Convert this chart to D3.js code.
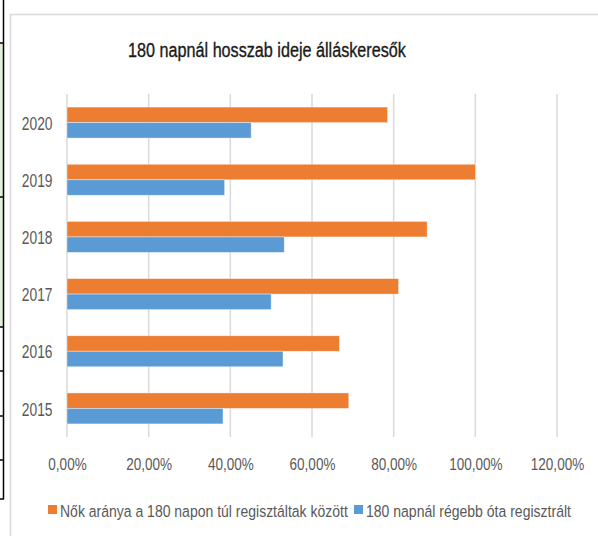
<!DOCTYPE html>
<html>
<head>
<meta charset="utf-8">
<script src="https://cdn.jsdelivr.net/npm/d3@7"></script>
<style>
  body { margin: 0; background: #fff; }
  svg { display: block; }
  text { font-family: "Liberation Sans", Arial, sans-serif; }
</style>
</head>
<body>
<div id="chart"></div>
<script>
const years = ["2020", "2019", "2018", "2017", "2016", "2015"];
const seriesNames = ["Nők aránya a 180 napon túl regisztáltak között", "180 napnál régebb óta regisztrált"];
const womenShare = [0.785, 1.0, 0.882, 0.812, 0.667, 0.69];
const longTerm = [0.451, 0.386, 0.532, 0.50, 0.529, 0.382];
const xTicks = [0, 0.2, 0.4, 0.6, 0.8, 1.0, 1.2];
const colors = ["#ED7D31", "#5B9BD5"];

const width = 598, height = 536;
const margin = { left: 67, right: 41, top: 94, bottom: 99 };

// Calibri is narrower than anything installed, so squeeze text horizontally
// around its anchor point (k = factor, or a target width in px if w given)
function squeeze(sel, k, w) {
  sel.each(function () {
    let t = d3.select(this);
    let f = w ? w / this.getComputedTextLength() : k;
    let ax = +t.attr("x") || 0, ay = +t.attr("y") || 0;
    t.attr("transform", `translate(${ax},${ay}) scale(${f},1) translate(${-ax},${-ay})`);
  });
}

let svg = d3.select("#chart")
  .append("svg")
  .attr("width", width)
  .attr("height", height);

// worksheet cell borders peeking out on the left
svg.append("rect").attr("x", 0).attr("y", 43).attr("width", 3).attr("height", 284).attr("fill", "#e2efda");
svg.append("line").attr("x1", 3.5).attr("x2", 3.5).attr("y1", 0).attr("y2", 499).attr("stroke", "#000").attr("stroke-width", 1.5);
[43, 197, 327, 371, 416, 460, 499].forEach((y) => {
  svg.append("line").attr("x1", 0).attr("x2", 4).attr("y1", y).attr("y2", y).attr("stroke", "#000").attr("stroke-width", 1.5);
});

// chart area frame
svg.append("rect")
  .attr("x", 10.5).attr("y", 14.5)
  .attr("width", 620).attr("height", 540)
  .attr("fill", "#fff")
  .attr("stroke", "#d9d9d9")
  .attr("stroke-width", 1.5);

svg.append("text")
  .attr("x", 267)
  .attr("y", 57)
  .attr("text-anchor", "middle")
  .attr("font-size", 21)
  .attr("fill", "#1a1a1a")
  .attr("stroke", "#1a1a1a")
  .attr("stroke-width", 0.35)
  .text("180 napnál hosszab ideje álláskeresők")
  .call(squeeze, 1, 278);

let x = d3.scaleLinear().domain([0, 1.2]).range([margin.left, width - margin.right]);
let y = d3.scaleBand().domain(years).range([margin.top, height - margin.bottom])
  .paddingInner(0.458).paddingOuter(0.229);
let ySub = d3.scaleBand().domain([0, 1]).range([0, y.bandwidth()]);

const locale = d3.formatLocale({ decimal: ",", thousands: " ", grouping: [3], currency: ["", ""] });
const pct = locale.format(".2%");

// gridlines
svg.append("g")
  .selectAll("line")
  .data(xTicks)
  .join("line")
  .attr("x1", (d) => x(d)).attr("x2", (d) => x(d))
  .attr("y1", margin.top).attr("y2", height - margin.bottom)
  .attr("stroke", "#d9d9d9")
  .attr("stroke-width", 1.5);

// x axis labels
let xAxis = d3.axisBottom(x).tickValues(xTicks).tickFormat(pct).tickSize(0).tickPadding(21.5);
let gx = svg.append("g").attr("transform", `translate(0,${height - margin.bottom})`).call(xAxis);
gx.select(".domain").remove();
gx.selectAll("text").attr("font-size", 16.3).attr("fill", "#595959").attr("font-family", null).call(squeeze, 0.83);

// y axis labels
let yAxis = d3.axisLeft(y).tickSize(0).tickPadding(14.5);
let gy = svg.append("g").attr("transform", `translate(${margin.left},0)`).call(yAxis);
gy.select(".domain").remove();
gy.selectAll("text").attr("font-size", 17.7).attr("dy", "0.4em").attr("fill", "#595959").attr("font-family", null).call(squeeze, 0.78);

// bars
const series = [womenShare, longTerm];
series.forEach((vals, si) => {
  svg.append("g")
    .selectAll("rect")
    .data(vals)
    .join("rect")
    .attr("x", x(0))
    .attr("y", (d, i) => y(years[i]) + ySub(si))
    .attr("width", (d) => x(d) - x(0))
    .attr("height", ySub.bandwidth())
    .attr("fill", colors[si])
    .attr("stroke", "#fff")
    .attr("stroke-opacity", 0.5)
    .attr("stroke-width", 0.75);
});

// legend
const legendX = [48, 354];
const legendW = [288, 205];
let legend = svg.append("g");
seriesNames.forEach((name, i) => {
  legend.append("rect")
    .attr("x", legendX[i]).attr("y", 505)
    .attr("width", 9).attr("height", 9)
    .attr("fill", colors[i]);
  legend.append("text")
    .attr("x", legendX[i] + 12).attr("y", 516.7)
    .attr("font-size", 17)
    .attr("fill", "#595959")
    .text(name)
    .call(squeeze, 1, legendW[i]);
});
</script>
</body>
</html>
